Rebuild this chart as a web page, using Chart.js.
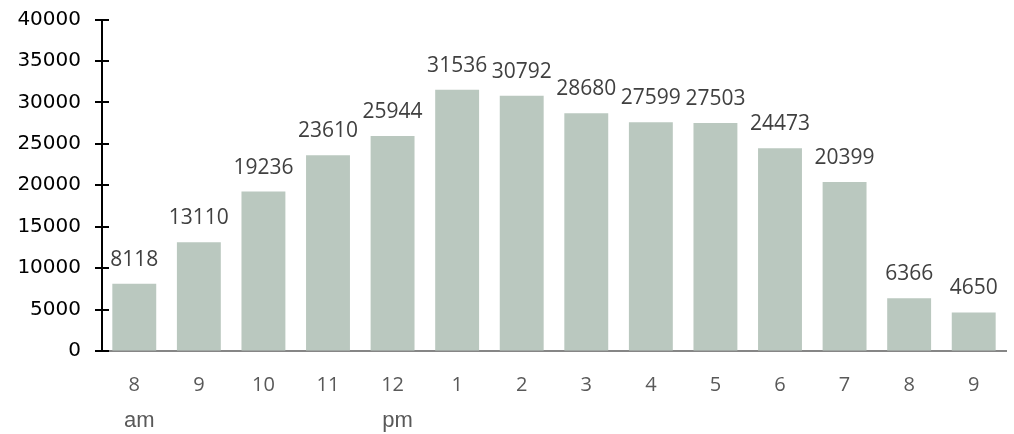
<!DOCTYPE html>
<html>
<head>
<meta charset="utf-8">
<script src="https://cdn.jsdelivr.net/npm/chart.js@4/dist/chart.umd.min.js"></script>
<style>
  html, body { margin: 0; padding: 0; background: #ffffff; }
  #wrap { width: 1014px; height: 434px; }
</style>
</head>
<body>
<div id="wrap"><canvas id="c" width="1014" height="434"></canvas></div>
<script>
// Hourly counts, 8 am through 9 pm
const hours = ['8', '9', '10', '11', '12', '1', '2', '3', '4', '5', '6', '7', '8', '9'];
const counts = [8118, 13110, 19236, 23610, 25944, 31536, 30792, 28680, 27599, 27503, 24473, 20399, 6366, 4650];
const yTicks = [0, 5000, 10000, 15000, 20000, 25000, 30000, 35000, 40000];
// Period markers written under the hour labels (hour index -> text)
const periodIndex = [0, 4];
const periodText = ['am', 'pm'];

const BAR_COLOR = '#bac8bf';

// Short tick marks that cross the vertical axis line
const crossTicks = {
  id: 'crossTicks',
  afterDraw(chart) {
    const y = chart.scales.y;
    const ctx = chart.ctx;
    const x0 = chart.chartArea.left;
    ctx.save();
    ctx.strokeStyle = '#000000';
    ctx.lineWidth = 2;
    yTicks.forEach(v => {
      const py = Math.round(y.getPixelForValue(v));
      ctx.beginPath();
      ctx.moveTo(x0 - 7, py);
      ctx.lineTo(x0 + 7, py);
      ctx.stroke();
    });
    ctx.restore();
  }
};

// Value written above each bar
const valueLabels = {
  id: 'valueLabels',
  afterDatasetsDraw(chart) {
    const ctx = chart.ctx;
    const meta = chart.getDatasetMeta(0);
    ctx.save();
    ctx.fillStyle = '#404040';
    ctx.font = '21px "Open Sans"';
    ctx.textAlign = 'center';
    ctx.textBaseline = 'middle';
    meta.data.forEach((bar, i) => {
      ctx.fillText(String(counts[i]), bar.x, bar.y - 24);
    });
    ctx.restore();
  }
};

// am / pm under the hour labels
const periodLabels = {
  id: 'periodLabels',
  afterDraw(chart) {
    const x = chart.scales.x;
    const ctx = chart.ctx;
    ctx.save();
    ctx.fillStyle = '#595959';
    ctx.font = '22px "Liberation Sans"';
    ctx.textAlign = 'center';
    ctx.textBaseline = 'alphabetic';
    periodIndex.forEach((idx, k) => {
      ctx.fillText(periodText[k], x.getPixelForValue(idx) + 5, 427);
    });
    ctx.restore();
  }
};

new Chart(document.getElementById('c'), {
  type: 'bar',
  data: {
    labels: hours,
    datasets: [{
      data: counts,
      backgroundColor: BAR_COLOR,
      borderWidth: 0,
      barPercentage: 0.68,
      categoryPercentage: 1.0
    }]
  },
  options: {
    responsive: false,
    animation: false,
    events: [],
    layout: { autoPadding: false, padding: { top: 19.5, right: 8, left: 0, bottom: 0 } },
    plugins: {
      legend: { display: false },
      tooltip: { enabled: false }
    },
    scales: {
      x: {
        grid: { drawOnChartArea: false, drawTicks: false },
        border: { display: true, color: '#868686', width: 2 },
        ticks: {
          color: '#595959',
          font: { family: '"Open Sans"', size: 20 },
          padding: 22,
          maxRotation: 0
        },
        afterFit(scale) { scale.height = 83; }
      },
      y: {
        min: 0,
        max: 40000,
        grid: { drawOnChartArea: false, drawTicks: false },
        border: { display: true, color: '#000000', width: 2 },
        afterBuildTicks(scale) { scale.ticks = yTicks.map(v => ({ value: v })); },
        ticks: {
          color: '#000000',
          font: { family: '"DejaVu Sans"', size: 20 },
          padding: 21,
          callback: v => String(v)
        },
        afterFit(scale) {
          scale.width = 102;
          scale.paddingTop = 0;
          scale.paddingBottom = 0;
        }
      }
    }
  },
  plugins: [crossTicks, valueLabels, periodLabels]
});
</script>
</body>
</html>
